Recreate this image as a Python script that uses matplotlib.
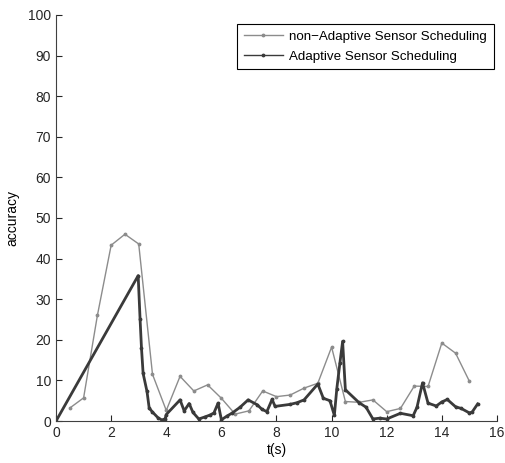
import matplotlib.pyplot as plt

plt.rcParams['font.family'] = ['Liberation Sans', 'DejaVu Sans']

# non-Adaptive Sensor Scheduling (gray)
t_non = [0.5, 1.0, 1.5, 2.0, 2.5, 3.0, 3.5, 4.0, 4.5, 5.0, 5.5, 6.0, 6.5, 7.0, 7.5,
         8.0, 8.5, 9.0, 9.5, 10.0, 10.5, 11.0, 11.5, 12.0, 12.5, 13.0, 13.5, 14.0, 14.5, 15.0]
acc_non = [3.2, 5.7, 26.0, 43.3, 46.0, 43.6, 11.5, 2.6, 11.0, 7.4, 8.9, 5.6, 1.7, 2.5, 7.4,
           6.0, 6.4, 8.1, 9.3, 18.2, 4.8, 4.6, 5.2, 2.3, 3.1, 8.6, 8.5, 19.2, 16.7, 9.8]

# Adaptive Sensor Scheduling (dark)
t_ad = [0, 2.98, 3.05, 3.1, 3.16, 3.3, 3.38, 3.5, 3.7, 3.85, 3.96, 4.0, 4.5, 4.65, 4.83,
        4.97, 5.18, 5.4, 5.6, 5.73, 5.88, 6.0, 6.2, 6.4, 6.68, 6.97, 7.3, 7.47, 7.65, 7.84,
        7.95, 8.5, 8.74, 9.0, 9.5, 9.7, 9.94, 10.1, 10.19, 10.3, 10.4, 10.5, 11.0, 11.25,
        11.5, 11.75, 12.0, 12.5, 12.96, 13.1, 13.3, 13.5, 13.8, 14.0, 14.2, 14.5, 14.7,
        15.0, 15.1, 15.3]
acc_ad = [0, 35.8, 25.0, 18.0, 11.7, 7.3, 3.2, 2.2, 0.8, 0.2, 0.6, 1.6, 5.2, 2.5, 4.3,
          2.1, 0.5, 1.0, 1.5, 2.0, 4.4, 0.3, 1.2, 2.0, 3.4, 5.2, 4.0, 2.9, 2.3, 5.3,
          3.6, 4.1, 4.5, 5.2, 9.1, 5.6, 5.0, 1.4, 8.0, 14.2, 19.6, 7.7, 4.5, 3.4,
          0.5, 0.7, 0.5, 1.9, 1.3, 3.4, 9.4, 4.4, 3.7, 4.7, 5.3, 3.5, 3.1,
          2.0, 2.2, 4.2]

fig = plt.figure(figsize=(5.05, 4.63), dpi=100)
ax = fig.add_axes([0.111, 0.0907, 0.873, 0.877])

ax.plot(t_non, acc_non, '.-', color='#8c8c8c', lw=1.0, ms=3.5,
        label='non\u2212Adaptive Sensor Scheduling')
ax.plot(t_ad, acc_ad, '.-', color='#3a3a3a', lw=2.0, ms=3.5,
        label='Adaptive Sensor Scheduling')

ax.set_xlim(0, 16)
ax.set_ylim(0, 100)
ax.set_xticks(range(0, 17, 2))
ax.set_yticks(range(0, 101, 10))
ax.tick_params(direction='in', length=4, labelsize=10, colors='#262626')
for s in ['top', 'right']:
    ax.spines[s].set_visible(False)
for s in ['left', 'bottom']:
    ax.spines[s].set_color('#404040')

ax.set_xlabel('t(s)', fontsize=10, labelpad=2)
ax.set_ylabel('accuracy', fontsize=10, labelpad=6)

# legend box placed like the MATLAB one (upper right, close to the edge)
leg = ax.legend(loc='upper right', bbox_to_anchor=(0.993, 0.978), borderaxespad=0,
                fontsize=9.6, fancybox=False, framealpha=1, edgecolor='black',
                handlelength=2.9, handletextpad=0.5, numpoints=1,
                borderpad=0.5, labelspacing=0.55)
leg.get_frame().set_linewidth(0.8)
for h in leg.get_lines():
    h.set_linewidth(1.0)

fig.savefig('out.png', dpi=100)
